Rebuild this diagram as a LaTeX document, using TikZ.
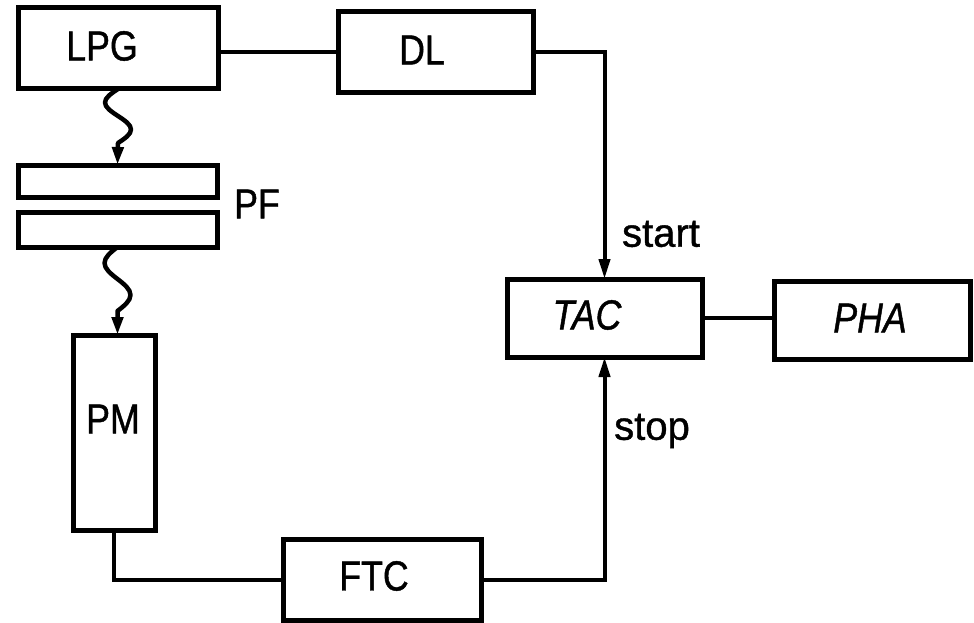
\documentclass[tikz,border=0pt]{standalone}
\usepackage{fontspec}
\setmainfont{Liberation Sans}[FakeStretch=0.85,FakeBold=1]
\newfontfamily\lblfont{Liberation Sans}[FakeBold=1]
\usetikzlibrary{arrows.meta}
\begin{document}
\begin{tikzpicture}[x=1pt,y=-1pt,
  box/.style={draw, line width=5pt, rectangle, inner sep=0pt, outer sep=0pt},
  wire/.style={line width=4pt},
  wavy/.style={line width=4.5pt, line join=round},
  tip/.style={-{Triangle[length=20pt,width=11pt]}},
  smalltip/.style={-{Triangle[length=18pt,width=11pt]}},
  txt/.style={font=\fontsize{42}{42}\selectfont, inner sep=0pt},
  slanttxt/.style={font=\fontsize{42}{42}\selectfont\itshape, inner sep=0pt},
  sig/.style={font=\lblfont\fontsize{40}{40}\selectfont, inner sep=0pt}
]
\useasboundingbox (0,0) rectangle (974,623);

% boxes
\node[box, minimum width=200pt, minimum height=81pt] (LPG) at (118,48.5) {};
\node[box, minimum width=195pt, minimum height=81pt] (DL) at (435.5,52.5) {};
\node[box, minimum width=199pt, minimum height=32pt] (PF1) at (117.5,181) {};
\node[box, minimum width=199pt, minimum height=35pt] (PF2) at (117.5,229.5) {};
\node[box, minimum width=82pt, minimum height=195pt] (PM) at (114,432.5) {};
\node[box, minimum width=198pt, minimum height=81pt] (FTC) at (382,579.5) {};
\node[box, minimum width=195pt, minimum height=78pt] (TAC) at (604.5,318) {};
\node[box, minimum width=196pt, minimum height=78pt] (PHA) at (872,320) {};

% texts
\node[txt] (LPGt) at (102,46) {LPG};
\node[txt] (DLt) at (422,50) {DL};
\node[txt] (PFt) at (257,204) {PF};
\node[txt] (PMt) at (113,419) {PM};
\node[txt] (FTCt) at (374,576) {FTC};
\node[slanttxt] (TACt) at (587,315) {TAC};
\node[slanttxt] (PHAt) at (870,318) {PHA};
\node[sig] (startt) at (661,234) {start};
\node[sig] (stopt) at (652,431) {stop};

% connectors
\draw[wire] (DL.west -| LPG.east) -- (DL.west);
\draw[wire, tip] (DL.east) -| (TAC.north);
\draw[wire] (PM.south) |- (FTC.west);
\draw[wire, tip] (FTC.east) -| (TAC.south);
\draw[wire] (TAC.east) -- (TAC.east -| PHA.west);

% light paths (wavy), one sine period each
\draw[wavy, smalltip] (LPG.south)
  .. controls +(-6.7,4.4) and +(0,-4.9) .. ++(-13,13.5)
  .. controls +(0,4.9) and +(-6.7,-4.4) .. ++(13,13.5)
  .. controls +(6.7,4.4) and +(0,-4.9) .. ++(13,13.5)
  .. controls +(0,4.9) and +(6.7,-4.4) .. ++(-13,13.5)
  -- (PF1.north);
\draw[wavy, smalltip] (PF2.south)
  .. controls +(-6.7,5.2) and +(0,-5.8) .. ++(-13,16)
  .. controls +(0,5.8) and +(-6.7,-5.2) .. ++(13,16)
  .. controls +(6.7,5.2) and +(0,-5.8) .. ++(13,16)
  .. controls +(0,5.8) and +(6.7,-5.2) .. ++(-13,16)
  -- (PF2.south |- PM.north);
\end{tikzpicture}
\end{document}
